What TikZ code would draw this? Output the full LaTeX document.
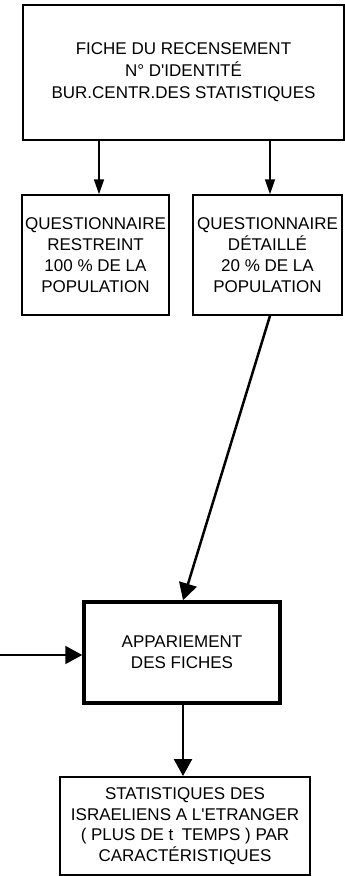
\documentclass[tikz,border=0pt]{standalone}
\usepackage{fontspec}
\setmainfont{Liberation Sans}
\usetikzlibrary{arrows.meta}

\tikzset{
  box/.style={draw, line width=1.5pt, align=center, inner sep=0pt,
    font=\fontsize{17}{21}\selectfont},
  link/.style={line width=1.5pt, -{Triangle[length=15pt,width=10pt]}},
  biglink/.style={line width=2.5pt, -{Triangle[length=17pt,width=18pt]}}
}

\begin{document}
\begin{tikzpicture}[x=1pt,y=-1pt]

\useasboundingbox (0,0) rectangle (345,876);

\node[box, minimum width=321pt, minimum height=135pt,
  font=\fontsize{17}{22}\selectfont] (fiche) at (183.5,72.5)
  {FICHE DU RECENSEMENT\\N° D\textquotesingle IDENTITÉ\\BUR.CENTR.DES STATISTIQUES};

\node[box, minimum width=147pt, minimum height=120pt] (restreint) at (95.5,255)
  {QUESTIONNAIRE\\RESTREINT\\100 \% DE LA\\POPULATION};
\node[box, minimum width=149pt, minimum height=120pt] (detaille) at (267.5,255)
  {QUESTIONNAIRE\\DÉTAILLÉ\\20 \% DE LA\\POPULATION};

\node[box, line width=3.5pt, minimum width=196pt, minimum height=101pt] (appariement) at (182,652.5)
  {APPARIEMENT\\DES FICHES};

\node[box, line width=2pt, minimum width=250pt, minimum height=98pt,
  font=\fontsize{17}{20.5}\selectfont] (stats) at (185,826)
  {STATISTIQUES DES\\ISRAELIENS A L\textquotesingle ETRANGER\\( PLUS DE t\enspace TEMPS ) PAR\\CARACTÉRISTIQUES};

\coordinate (extern) at (0,655);

\draw[link] ([xshift=3.5pt]restreint.north |- fiche.south)
  to ([xshift=3.5pt]restreint.north);
\draw[link] ([xshift=2.5pt]detaille.north |- fiche.south)
  to ([xshift=2.5pt]detaille.north);

\draw[biglink] ([xshift=2.5pt]detaille.south)
  to ([xshift=1pt]appariement.north);
\draw[biglink, line width=2pt] (extern)
  to (extern -| appariement.west);
\draw[biglink] ([xshift=1pt]appariement.south)
  to ([xshift=1pt]appariement.south |- stats.north);

\end{tikzpicture}
\end{document}
